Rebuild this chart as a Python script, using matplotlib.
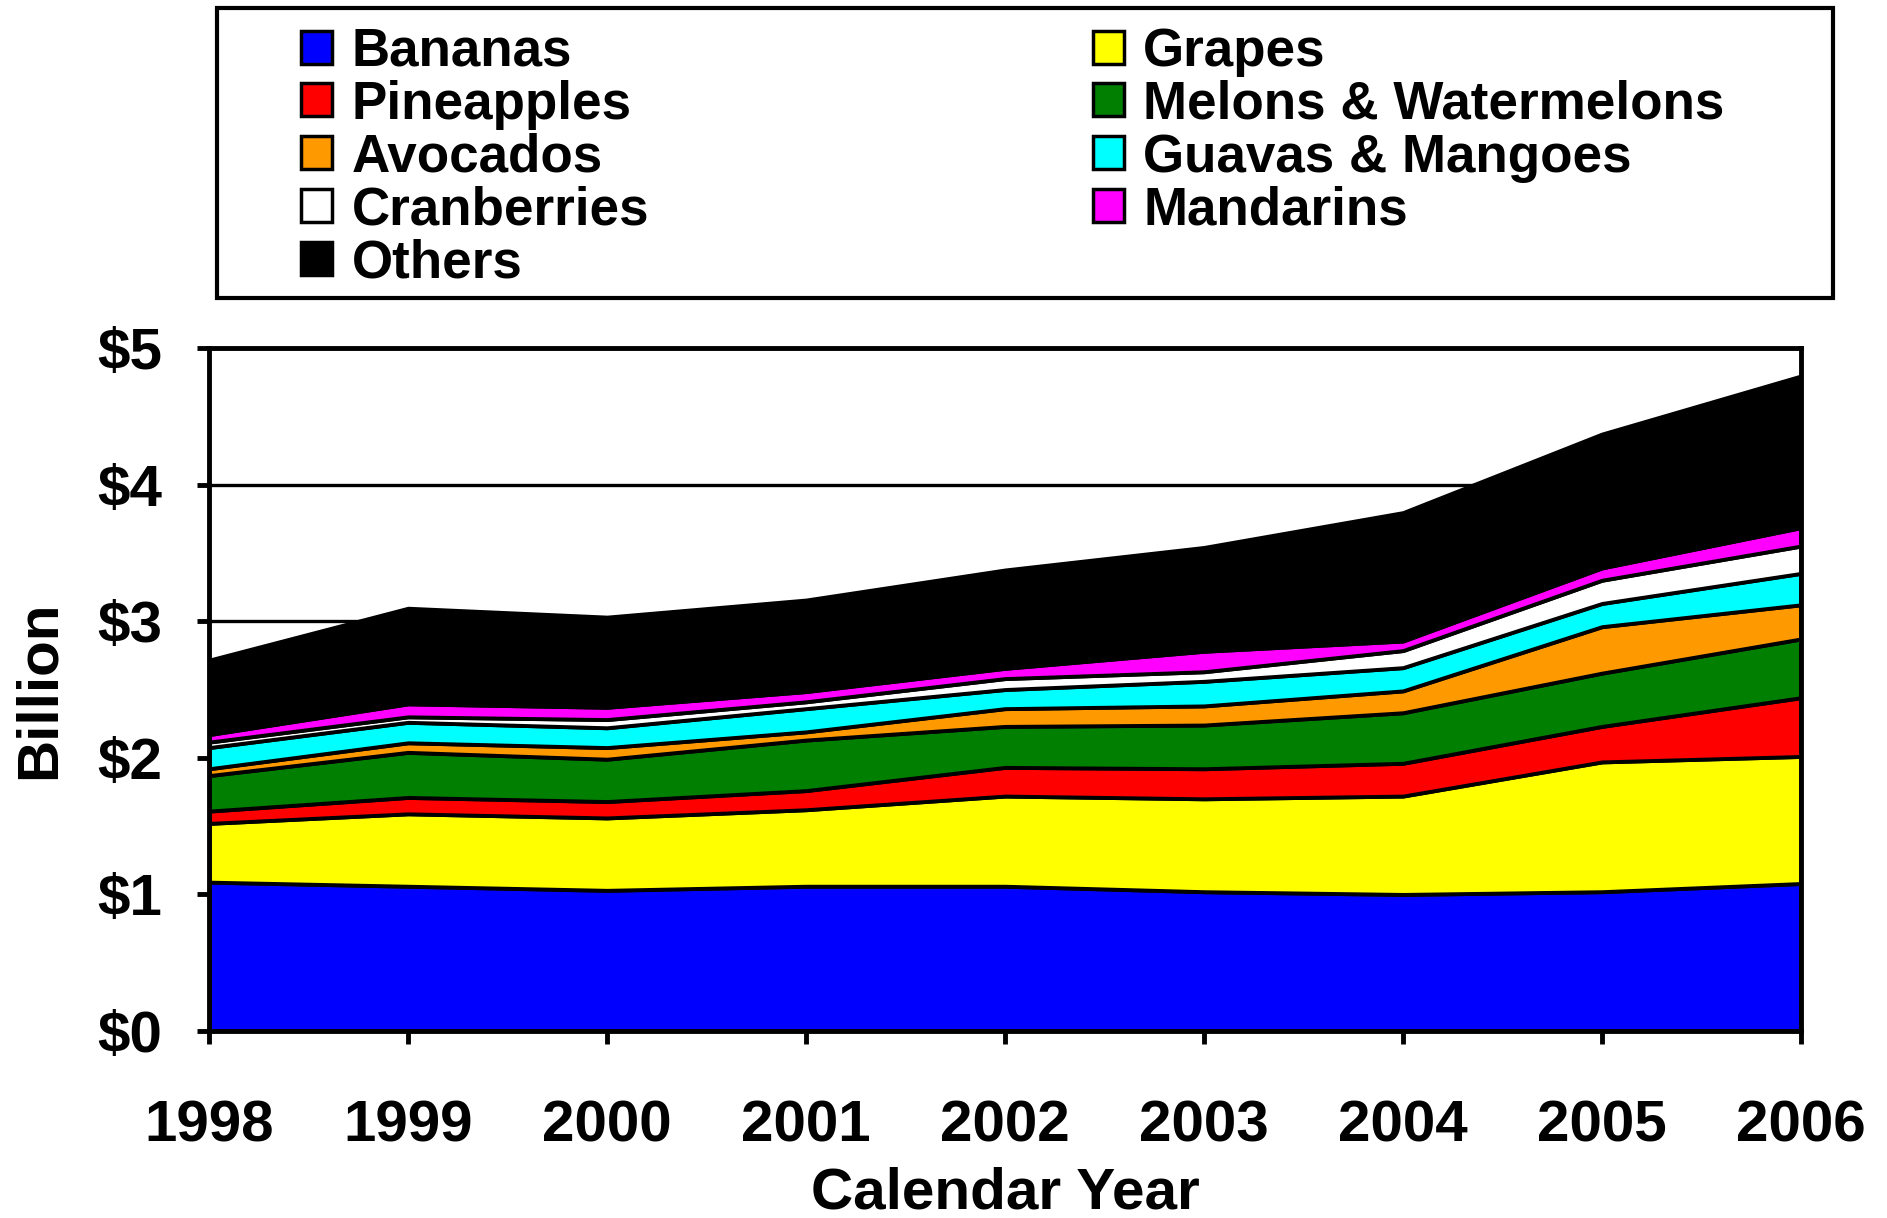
import matplotlib.pyplot as plt
from matplotlib.patches import Patch, Rectangle

plt.rcParams['font.family'] = ['Liberation Sans', 'DejaVu Sans']
plt.rcParams['font.weight'] = 'bold'

years = [1998, 1999, 2000, 2001, 2002, 2003, 2004, 2005, 2006]

# billions of dollars
bananas = [1.09, 1.06, 1.03, 1.06, 1.06, 1.02, 1.00, 1.02, 1.08]
grapes = [0.43, 0.53, 0.53, 0.56, 0.66, 0.68, 0.72, 0.95, 0.93]
pineapples = [0.09, 0.12, 0.12, 0.14, 0.21, 0.22, 0.24, 0.26, 0.43]
melons = [0.26, 0.33, 0.31, 0.37, 0.30, 0.32, 0.37, 0.39, 0.43]
avocados = [0.05, 0.07, 0.085, 0.06, 0.13, 0.14, 0.16, 0.34, 0.25]
guavas = [0.155, 0.15, 0.145, 0.17, 0.14, 0.18, 0.17, 0.17, 0.23]
cranberries = [0.04, 0.04, 0.06, 0.05, 0.08, 0.07, 0.125, 0.17, 0.20]
mandarins = [0.055, 0.095, 0.09, 0.075, 0.075, 0.15, 0.07, 0.09, 0.135]
others = [0.545, 0.70, 0.66, 0.67, 0.72, 0.76, 0.94, 0.98, 1.11]

labels = ['Bananas', 'Grapes', 'Pineapples', 'Melons & Watermelons', 'Avocados',
          'Guavas & Mangoes', 'Cranberries', 'Mandarins', 'Others']
colors = ['#0000ff', '#ffff00', '#ff0000', '#007f00', '#ff9900',
          '#00ffff', '#ffffff', '#ff00ff', '#000000']
series = [bananas, grapes, pineapples, melons, avocados, guavas, cranberries, mandarins, others]

fig = plt.figure(figsize=(18.87, 12.18), dpi=100)
ax = fig.add_axes([0.1108, 0.1535, 0.8436, 0.5608])

ax.stackplot(years, *series, colors=colors, edgecolor='black', linewidth=2.8)

ax.set_xlim(1998, 2006)
ax.set_ylim(0, 5)
ax.set_xticks(years)
ax.set_yticks(range(6))
ax.set_yticklabels(['$%d' % v for v in range(6)])
ax.set_axisbelow(True)
ax.yaxis.grid(True, color='black', linewidth=2.4)
for s in ax.spines.values():
    s.set_linewidth(3.5)
ax.tick_params(axis='both', direction='out', width=3.5, length=9, labelsize=42)
ax.tick_params(axis='x', pad=40)
ax.tick_params(axis='y', pad=25)
ax.set_xlabel('Calendar Year', fontsize=42, fontweight='bold', labelpad=10)
ax.set_ylabel('Billion', fontsize=42, fontweight='bold', labelpad=22)

# legend: outer box drawn by hand, two columns as two frameless legends
fig.patches.append(Rectangle((0.115, 0.7553), 0.8564, 0.2381, transform=fig.transFigure,
                             facecolor='white', edgecolor='black', linewidth=3, zorder=0))
handles = [Patch(facecolor=c, edgecolor='black', linewidth=2.5) for c in colors]
leg_kw = dict(loc='upper left', fontsize=38.2, frameon=False, labelspacing=0.055,
              handlelength=0.58, handleheight=0.58, handletextpad=0.37,
              borderaxespad=0, borderpad=0)
col1 = [0, 2, 4, 6, 8]
col2 = [1, 3, 5, 7]
leg1 = fig.legend([handles[i] for i in col1], [labels[i] for i in col1],
                  bbox_to_anchor=(0.1595, 0.978), **leg_kw)
leg2 = fig.legend([handles[i] for i in col2], [labels[i] for i in col2],
                  bbox_to_anchor=(0.5792, 0.978), **leg_kw)

fig.savefig('out.png', dpi=100)
